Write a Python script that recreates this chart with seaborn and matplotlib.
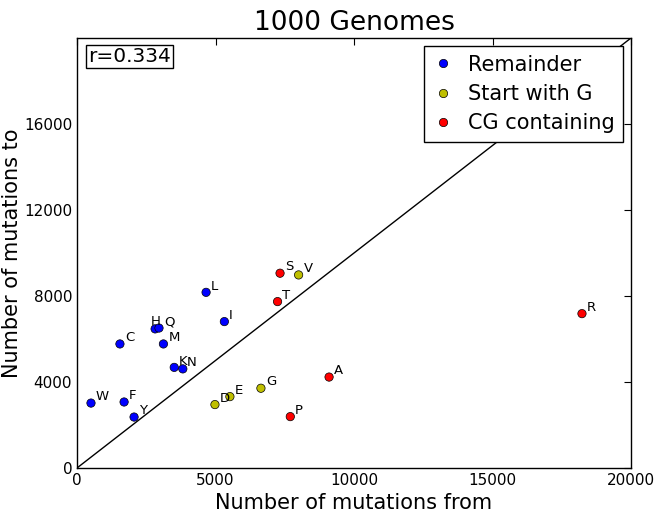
import matplotlib
matplotlib.use("Agg")
import matplotlib.pyplot as plt
import seaborn as sns
import pandas as pd

labels = ["W", "F", "Y", "C", "H", "Q", "M", "K", "N", "L", "I",
          "D", "E", "G", "V",
          "S", "T", "A", "P", "R"]
x_from = [505, 1700, 2060, 1550, 2820, 2960, 3120, 3510, 3820, 4660, 5320,
          4980, 5520, 6640, 8000,
          7330, 7240, 9100, 7700, 18230]
y_to = [3020, 3070, 2370, 5770, 6470, 6510, 5770, 4680, 4610, 8170, 6810,
        2950, 3320, 3710, 8980,
        9060, 7740, 4230, 2390, 7180]
groups = (["Remainder"] * 11 + ["Start with G"] * 4 + ["CG containing"] * 5)
group_order = ["Remainder", "Start with G", "CG containing"]
colors = ["#0000ff", "#bfbf00", "#ff0000"]
xticks = [0, 5000, 10000, 15000, 20000]
yticks = [0, 4000, 8000, 12000, 16000]
r_text = "r=0.334"

df = pd.DataFrame({"x": x_from, "y": y_to, "group": groups, "label": labels})

sns.set_style("white")
plt.rcParams['font.family'] = ['DejaVu Sans']
plt.rcParams.update({"text.color": "black", "axes.labelcolor": "black",
                     "xtick.color": "black", "ytick.color": "black"})

fig = plt.figure(figsize=(6.62, 5.13), dpi=100)
ax = fig.add_axes([77/662, 45/513, (631-77)/662, (468-38)/513])

ax.plot([0, 20000], [0, 20000], color="black", lw=1, zorder=1)
sns.scatterplot(data=df, x="x", y="y", hue="group", hue_order=group_order,
                palette=colors, s=36, edgecolor="black", linewidth=0.5,
                ax=ax, zorder=3)
label_offsets = {"H": (-3, 3), "N": (2.5, 2)}
for _, row in df.iterrows():
    off = label_offsets.get(row["label"], (3.5, 2))
    ax.annotate(row["label"], (row["x"], row["y"]), xytext=off,
                textcoords="offset points", fontsize=9.5, color="black")

ax.set_xlim(0, 20000)
ax.set_ylim(0, 20000)
ax.set_xticks(xticks)
ax.set_yticks(yticks)
ax.tick_params(direction="in", length=5, top=True, right=True, labelsize=11,
               colors="black")
for sp in ax.spines.values():
    sp.set_color("black")
    sp.set_linewidth(1)
ax.set_xlabel("Number of mutations from", fontsize=15, color="black")
ax.set_ylabel("Number of mutations to", fontsize=15, color="black", labelpad=1)
ax.set_title("1000 Genomes", fontsize=19, color="black")

ax.text(0.02, 0.978, r_text, transform=ax.transAxes, fontsize=14.5, va="top",
        ha="left", color="black",
        bbox=dict(facecolor="white", edgecolor="black", boxstyle="square,pad=0.1"))

leg = ax.legend(loc="upper right", fontsize=15, frameon=True, fancybox=False,
                edgecolor="black", framealpha=1, markerscale=1.0,
                handlelength=1.0, handletextpad=0.7, borderpad=0.4,
                labelspacing=0.45, borderaxespad=0.4)
leg.get_frame().set_linewidth(1)
for t in leg.get_texts():
    t.set_color("black")

fig.savefig("out.png", dpi=100)
